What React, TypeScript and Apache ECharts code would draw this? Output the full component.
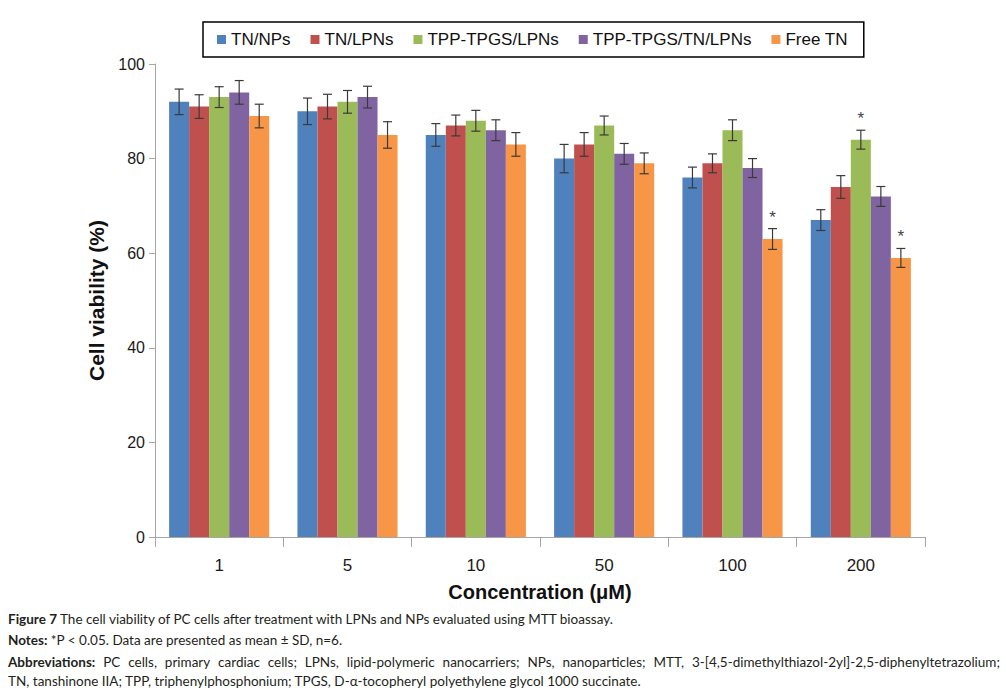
import React, { useEffect, useRef } from "react";
import * as echarts from "echarts";

const categories = ["1", "5", "10", "50", "100", "200"];
const seriesNames = ["TN/NPs", "TN/LPNs", "TPP-TPGS/LPNs", "TPP-TPGS/TN/LPNs", "Free TN"];
const colors = ["#4F81BD", "#C0504D", "#9BBB59", "#8064A2", "#F79646"];

const tnNPs = [92, 90, 85, 80, 76, 67];
const tnLPNs = [91, 91, 87, 83, 79, 74];
const tppLPNs = [93, 92, 88, 87, 86, 84];
const tppTnLPNs = [94, 93, 86, 81, 78, 72];
const freeTN = [89, 85, 83, 79, 63, 59];

const sdTnNPs = [2.7, 2.8, 2.4, 3.0, 2.2, 2.2];
const sdTnLPNs = [2.5, 2.6, 2.2, 2.5, 2.0, 2.4];
const sdTppLPNs = [2.2, 2.4, 2.2, 2.0, 2.2, 2.0];
const sdTppTnLPNs = [2.5, 2.3, 2.2, 2.2, 2.0, 2.1];
const sdFreeTN = [2.5, 2.8, 2.5, 2.2, 2.2, 2.0];

// significance flags (*P < 0.05)
const sigTnNPs = [0, 0, 0, 0, 0, 0];
const sigTnLPNs = [0, 0, 0, 0, 0, 0];
const sigTppLPNs = [0, 0, 0, 0, 0, 1];
const sigTppTnLPNs = [0, 0, 0, 0, 0, 0];
const sigFreeTN = [0, 0, 0, 0, 1, 1];

const yTicks = { min: 0, max: 100, interval: 20 };

const captionLine1Bold = "Figure 7";
const captionLine1 = " The cell viability of PC cells after treatment with LPNs and NPs evaluated using MTT bioassay.";
const notesBold = "Notes:";
const notesText = " *P < 0.05. Data are presented as mean ± SD, n=6.";
const abbrBold = "Abbreviations:";
const abbrText = "PC cells, primary cardiac cells; LPNs, lipid-polymeric nanocarriers; NPs, nanoparticles; MTT, 3-[4,5-dimethylthiazol-2yl]-2,5-diphenyltetrazolium;";
const abbrLine2 = "TN, tanshinone IIA; TPP, triphenylphosphonium; TPGS, D-α-tocopheryl polyethylene glycol 1000 succinate.";

const allMeans = [tnNPs, tnLPNs, tppLPNs, tppTnLPNs, freeTN];
const allSd = [sdTnNPs, sdTnLPNs, sdTppLPNs, sdTppTnLPNs, sdFreeTN];
const allSig = [sigTnNPs, sigTnLPNs, sigTppLPNs, sigTppTnLPNs, sigFreeTN];

const CAT_GAP = 0.22;

export default function App() {
  const ref = useRef<HTMLDivElement>(null);
  useEffect(() => {
    document.body.style.margin = "0";
    if (!ref.current) return;
    const chart = echarts.init(ref.current, null, { renderer: "svg" });

    const errData: number[][] = [];
    allMeans.forEach((arr, si) => {
      arr.forEach((v, ci) => {
        errData.push([ci, si, v, allSd[si][ci], allSig[si][ci]]);
      });
    });

    const barSeries = seriesNames.map((name, i) => ({
      name,
      type: "bar",
      data: allMeans[i],
      barGap: "0%",
      barCategoryGap: CAT_GAP * 100 + "%",
      itemStyle: { color: colors[i] },
    }));

    const textFont = "'Liberation Sans', Arial, sans-serif";
    const capFont = "Lato, 'Open Sans', sans-serif";
    const capSize = 13.5;
    const capColor = "#231f20";

    // justified abbreviations line
    const canvas = document.createElement("canvas");
    const ctx = canvas.getContext("2d")!;
    const words = [abbrBold, ...abbrText.split(" ")];
    const widths = words.map((w, i) => {
      ctx.font = (i === 0 ? "bold " : "") + capSize + "px " + capFont;
      return ctx.measureText(w).width;
    });
    const startX = 8;
    const endX = 1000;
    const totalW = widths.reduce((a, b) => a + b, 0);
    const gap = (endX - startX - totalW) / (words.length - 1);
    const justified: any[] = [];
    let cx = startX;
    words.forEach((w, i) => {
      justified.push({
        type: "text",
        x: cx,
        y: 655,
        style: {
          text: w,
          font: (i === 0 ? "bold " : "") + capSize + "px " + capFont,
          fill: capColor,
          textVerticalAlign: "top",
        },
      });
      cx += widths[i] + gap;
    });

    chart.setOption({
      animation: false,
      backgroundColor: "#ffffff",
      grid: { left: 155, right: 81, top: 64, bottom: 153 },
      legend: {
        data: seriesNames,
        left: 203,
        top: 22,
        itemWidth: 9,
        itemHeight: 9,
        itemGap: 20,
        borderColor: "#000",
        borderWidth: 1.5,
        padding: [9, 16, 9, 14],
        icon: "rect",
        textStyle: { fontFamily: textFont, fontSize: 17, color: "#111" },
      },
      xAxis: {
        type: "category",
        data: categories,
        name: "Concentration (μM)",
        nameLocation: "middle",
        nameGap: 45,
        nameTextStyle: { fontFamily: textFont, fontSize: 20, fontWeight: "bold", color: "#111" },
        axisLine: { lineStyle: { color: "#a6a6a6", width: 1 } },
        axisTick: { show: true, alignWithLabel: false, length: 10, lineStyle: { color: "#a6a6a6" } },
        axisLabel: { fontFamily: textFont, fontSize: 17, color: "#1a1a1a", margin: 20 },
      },
      yAxis: {
        type: "value",
        min: yTicks.min,
        max: yTicks.max,
        interval: yTicks.interval,
        name: "Cell viability (%)",
        nameLocation: "middle",
        nameGap: 48,
        nameTextStyle: { fontFamily: textFont, fontSize: 21, fontWeight: "bold", color: "#111" },
        axisLine: { show: true, lineStyle: { color: "#a6a6a6", width: 1 } },
        axisTick: { show: true, length: 6, lineStyle: { color: "#a6a6a6" } },
        axisLabel: { fontFamily: textFont, fontSize: 16, color: "#1a1a1a", margin: 10 },
        splitLine: { show: false },
      },
      series: [
        ...barSeries,
        {
          type: "custom",
          name: "err",
          data: errData,
          encode: { x: 0, y: 2 },
          z: 10,
          silent: true,
          renderItem: (params: any, api: any) => {
            const ci = api.value(0);
            const si = api.value(1);
            const mean = api.value(2);
            const sd = api.value(3);
            const sig = api.value(4);
            const band = api.size([1, 0])[0];
            const groupW = band * (1 - CAT_GAP);
            const bw = groupW / 5;
            const center = api.coord([ci, 0])[0];
            const x = center - groupW / 2 + (si + 0.5) * bw;
            const yTop = api.coord([ci, mean + sd])[1];
            const yBot = api.coord([ci, mean - sd])[1];
            const cap = 4.5;
            const st = { stroke: "#3a3a3a", lineWidth: 1.2 };
            const children: any[] = [
              { type: "line", shape: { x1: x, y1: yTop, x2: x, y2: yBot }, style: st },
              { type: "line", shape: { x1: x - cap, y1: yTop, x2: x + cap, y2: yTop }, style: st },
              { type: "line", shape: { x1: x - cap, y1: yBot, x2: x + cap, y2: yBot }, style: st },
            ];
            if (sig) {
              children.push({
                type: "text",
                x: x,
                y: yTop - 3,
                style: {
                  text: "*",
                  fill: "#444",
                  font: "17px 'Liberation Sans', Arial, sans-serif",
                  textAlign: "center",
                  textVerticalAlign: "bottom",
                },
              });
            }
            return { type: "group", children };
          },
        },
      ],
      graphic: [
        {
          type: "text",
          left: 8,
          top: 612,
          style: {
            text: "{b|" + captionLine1Bold + "}" + captionLine1,
            font: capSize + "px " + capFont,
            fill: capColor,
            rich: { b: { fontWeight: "bold", fontFamily: capFont, fontSize: capSize, fill: capColor } },
          },
        },
        {
          type: "text",
          left: 8,
          top: 633,
          style: {
            text: "{b|" + notesBold + "}" + notesText,
            font: capSize + "px " + capFont,
            fill: capColor,
            rich: { b: { fontWeight: "bold", fontFamily: capFont, fontSize: capSize, fill: capColor } },
          },
        },
        ...justified,
        {
          type: "text",
          left: 8,
          top: 674,
          style: {
            text: abbrLine2,
            font: capSize + "px " + capFont,
            fill: capColor,
          },
        },
      ],
    });
    return () => chart.dispose();
  }, []);
  return <div ref={ref} style={{ width: 1006, height: 690 }} />;
}
